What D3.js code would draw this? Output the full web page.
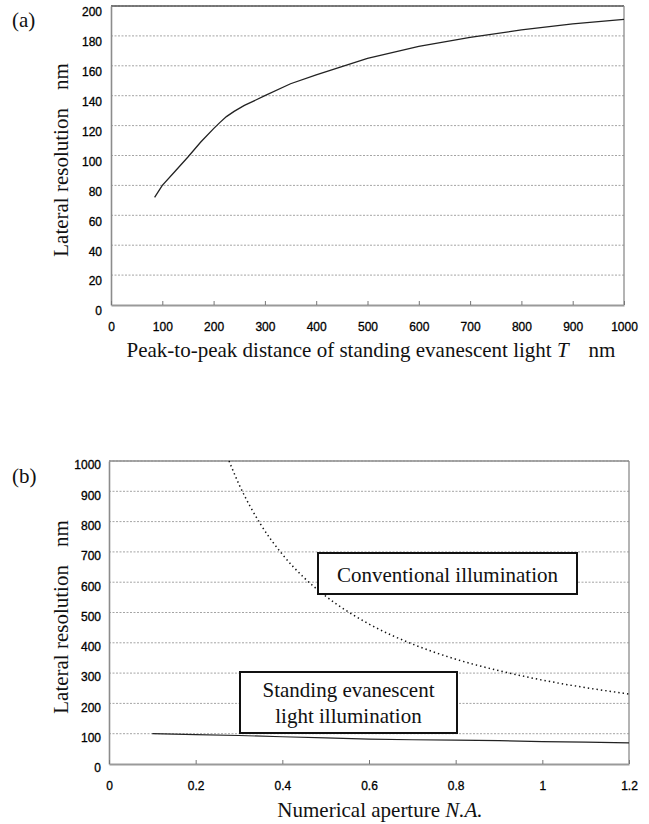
<!DOCTYPE html>
<html>
<head>
<meta charset="utf-8">
<script src="https://cdn.jsdelivr.net/npm/d3@7"></script>
<style>
  html, body { margin: 0; padding: 0; background: #fff; }
  svg { display: block; }
  .tick text { font-family: "Liberation Sans", Arial, sans-serif; font-size: 12px; fill: #000; stroke: #000; stroke-width: 0.3px; }
</style>
</head>
<body>
<script>
// (a) lateral resolution vs. standing-wave period T
const periodT = [85, 100, 125, 150, 175, 200, 212, 225, 240, 260, 300, 350, 400, 450, 500, 600, 700, 800, 900, 1000];
const resolutionA = [72, 80, 89.5, 99, 109, 118, 122, 126, 129.5, 133.5, 140, 148, 154, 159.5, 165, 173, 179, 184, 188, 191];
const ticksXA = [0, 100, 200, 300, 400, 500, 600, 700, 800, 900, 1000];
const ticksYA = [0, 20, 40, 60, 80, 100, 120, 140, 160, 180, 200];

// (b) lateral resolution vs. numerical aperture
const apertureConv = [0.277, 0.3, 0.35, 0.4, 0.45, 0.5, 0.6, 0.7, 0.8, 0.9, 1.0, 1.1, 1.2];
const resolutionConv = [1000, 923, 791, 692, 615, 554, 462, 396, 346, 308, 277, 252, 231];
const apertureSEW = [0.1, 0.2, 0.3, 0.4, 0.5, 0.6, 0.7, 0.8, 0.9, 1.0, 1.1, 1.2];
const resolutionSEW = [100, 97, 94, 90, 86, 82, 80, 79, 77, 74, 72, 70];
const ticksXB = [0, 0.2, 0.4, 0.6, 0.8, 1, 1.2];
const ticksYB = [0, 100, 200, 300, 400, 500, 600, 700, 800, 900, 1000];

const SERIF = "'Liberation Serif', 'Times New Roman', 'DejaVu Serif', serif";

const svg = d3.select("body").append("svg")
  .attr("width", 649).attr("height", 824);

function serifText(x, y, size) {
  return svg.append("text")
    .attr("x", x).attr("y", y)
    .attr("font-family", SERIF).attr("font-size", size).attr("fill", "#111");
}

function panel(cfg) {
  const g = svg.append("g");
  const x = d3.scaleLinear().domain(cfg.xDomain).range([cfg.left, cfg.right]);
  const y = d3.scaleLinear().domain(cfg.yDomain).range([cfg.bottom, cfg.top]);

  // horizontal dotted gridlines
  g.append("g").selectAll("line").data(cfg.yTicks.filter(v => v !== cfg.yDomain[0]))
    .join("line")
    .attr("x1", cfg.left).attr("x2", cfg.right)
    .attr("y1", d => y(d)).attr("y2", d => y(d))
    .attr("stroke", "#9a9a9a").attr("stroke-width", 0.9)
    .attr("stroke-dasharray", "2,1.5");

  // frame: top and right
  g.append("line").attr("x1", cfg.left).attr("x2", cfg.right)
    .attr("y1", cfg.top).attr("y2", cfg.top)
    .attr("stroke", cfg.topColor).attr("stroke-width", 1.3);
  g.append("line").attr("x1", cfg.right).attr("x2", cfg.right)
    .attr("y1", cfg.top).attr("y2", cfg.bottom)
    .attr("stroke", "#8c8c8c").attr("stroke-width", 1.3);

  // y axis
  const ya = g.append("g").attr("transform", `translate(${cfg.left},0)`)
    .call(d3.axisLeft(y).tickValues(cfg.yTicks).tickSize(0).tickPadding(cfg.yPad)
      .tickFormat(d3.format("d")));
  ya.select(".domain").attr("stroke", "#8c8c8c").attr("stroke-width", 1.6);
  ya.selectAll(".tick text").attr("transform", `translate(0,${cfg.yLabelShift})`);

  // x axis with inward ticks
  const xa = g.append("g").attr("transform", `translate(0,${cfg.bottom})`)
    .call(d3.axisBottom(x).tickValues(cfg.xTicks).tickSizeInner(-4).tickSizeOuter(0)
      .tickPadding(18).tickFormat(cfg.xFormat));
  xa.select(".domain").attr("stroke", "#9a9a9a").attr("stroke-width", 2);
  xa.selectAll(".tick line").attr("stroke", "#777").attr("stroke-width", 1);
  xa.selectAll(".tick text").attr("y", 0).attr("dy", "0").attr("transform", "translate(0,26)");

  return { g, x, y };
}

// ---------- panel (a) ----------
const A = panel({
  left: 111, right: 624, top: 6, bottom: 305,
  xDomain: [0, 1000], yDomain: [0, 200],
  xTicks: ticksXA, yTicks: ticksYA,
  yPad: 9, yLabelShift: 6, topColor: "#555",
  xFormat: d3.format("d")
});

A.g.append("path")
  .datum(periodT.map((t, i) => [t, resolutionA[i]]))
  .attr("fill", "none").attr("stroke", "#222").attr("stroke-width", 1.3)
  .attr("d", d3.line().x(d => A.x(d[0])).y(d => A.y(d[1])));

serifText(12, 27, 21).text("(a)");

const xtA = serifText(371, 357, 21).attr("text-anchor", "middle");
xtA.append("tspan").text("Peak-to-peak distance of standing evanescent light ");
xtA.append("tspan").attr("font-style", "italic").text("T");
xtA.append("tspan").attr("dx", 20).text("nm");

const ytA = serifText(0, 0, 21)
  .attr("transform", "translate(68,160) rotate(-90)")
  .attr("text-anchor", "middle");
ytA.append("tspan").text("Lateral resolution");
ytA.append("tspan").attr("dx", 18).text("nm");

// ---------- panel (b) ----------
const B = panel({
  left: 109, right: 629, top: 461, bottom: 764,
  xDomain: [0, 1.2], yDomain: [0, 1000],
  xTicks: ticksXB, yTicks: ticksYB,
  yPad: 8, yLabelShift: 4, topColor: "#8c8c8c",
  xFormat: d => d3.format("~g")(d)
});

// conventional illumination (dotted)
B.g.append("path")
  .datum(apertureConv.map((a, i) => [a, resolutionConv[i]]))
  .attr("fill", "none").attr("stroke", "#111").attr("stroke-width", 1.5)
  .attr("stroke-dasharray", "1.4,3")
  .attr("d", d3.line().curve(d3.curveMonotoneX).x(d => B.x(d[0])).y(d => B.y(d[1])));

// standing evanescent light illumination (solid)
B.g.append("path")
  .datum(apertureSEW.map((a, i) => [a, resolutionSEW[i]]))
  .attr("fill", "none").attr("stroke", "#222").attr("stroke-width", 1.2)
  .attr("d", d3.line().x(d => B.x(d[0])).y(d => B.y(d[1])));

// annotation boxes
function labelBox(x0, y0, w, h, lines, baselines) {
  svg.append("rect").attr("x", x0).attr("y", y0).attr("width", w).attr("height", h)
    .attr("fill", "#fff").attr("stroke", "#111").attr("stroke-width", 2);
  lines.forEach((t, i) => {
    serifText(x0 + w / 2, baselines[i], 21).attr("text-anchor", "middle").text(t);
  });
}
labelBox(318, 553, 259, 41, ["Conventional illumination"], [582]);
labelBox(240, 672, 217, 61, ["Standing evanescent", "light illumination"], [697, 723]);

serifText(12, 483, 21).text("(b)");

const xtB = serifText(380, 817, 21).attr("text-anchor", "middle");
xtB.append("tspan").text("Numerical aperture ");
xtB.append("tspan").attr("font-style", "italic").text("N.A.");

const ytB = serifText(0, 0, 21)
  .attr("transform", "translate(68,617) rotate(-90)")
  .attr("text-anchor", "middle");
ytB.append("tspan").text("Lateral resolution");
ytB.append("tspan").attr("dx", 18).text("nm");
</script>
</body>
</html>
